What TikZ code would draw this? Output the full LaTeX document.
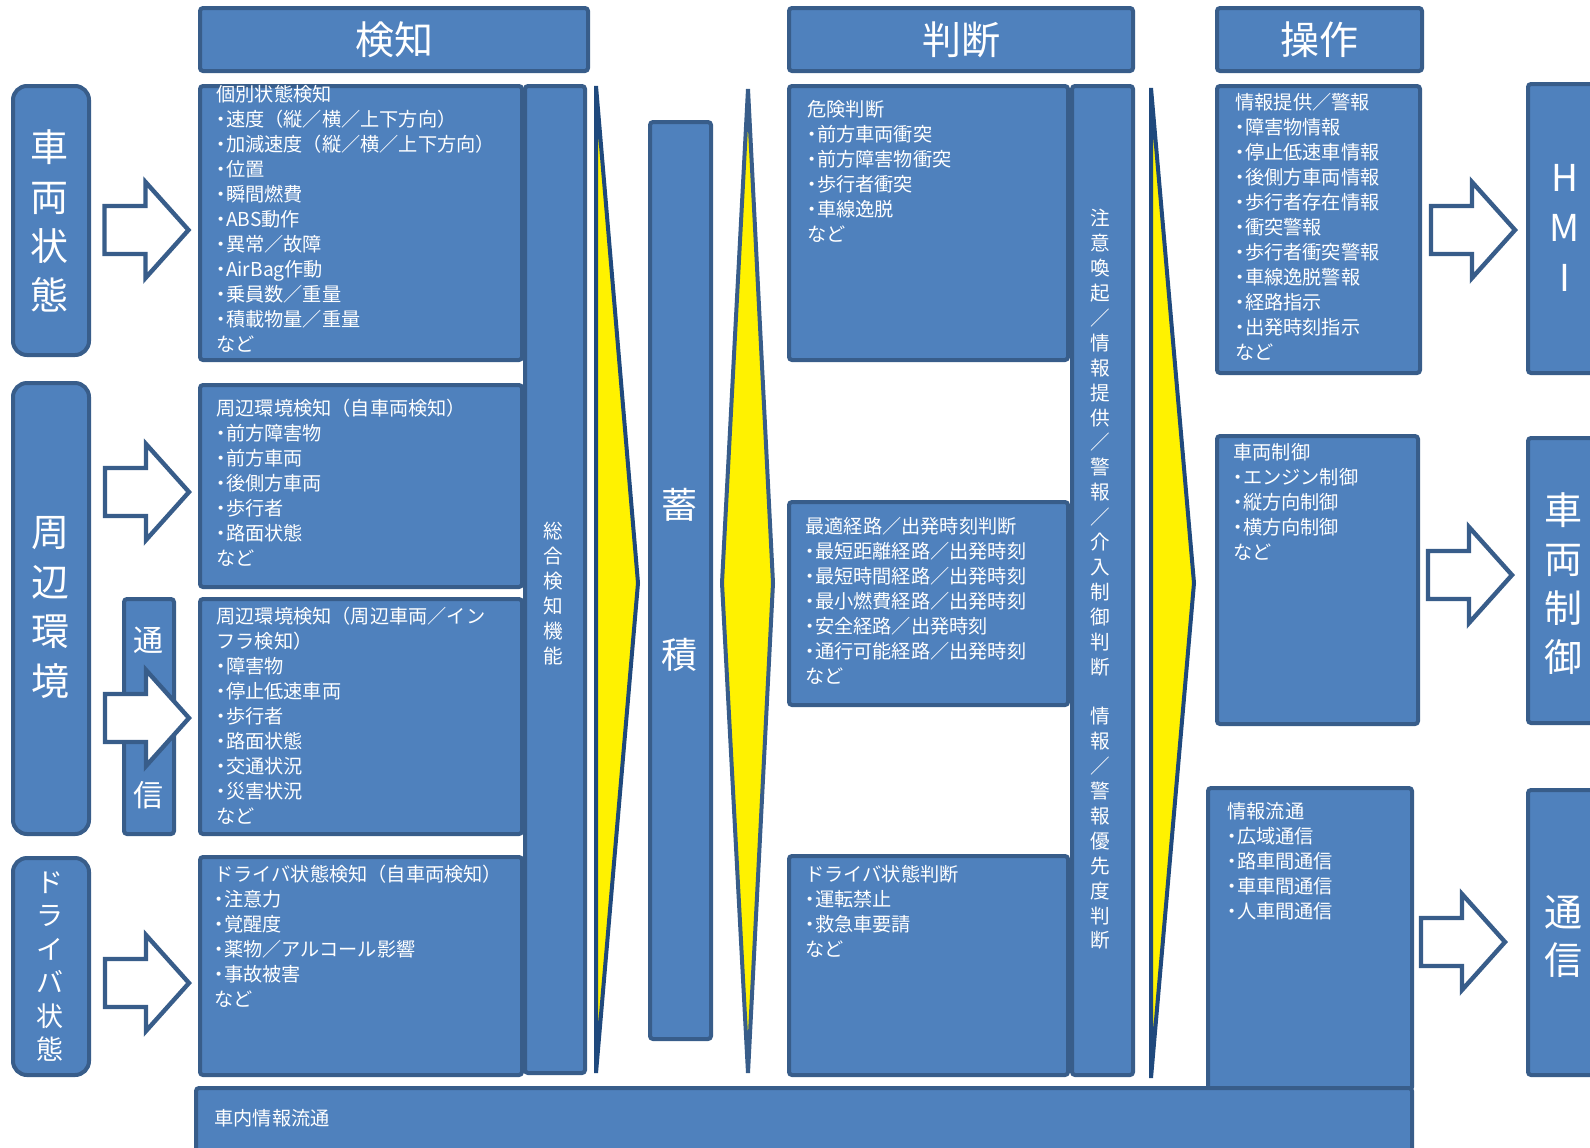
\documentclass[tikz,border=0pt]{standalone}
\usepackage{fontspec}
\setmainfont{Noto Sans CJK JP}
\newfontfamily\jpp{Noto Sans CJK JP}[RawFeature=+palt]
\newcommand\ndot{{\jpp ・}}
\definecolor{boxfill}{HTML}{4F81BD}
\definecolor{boxline}{HTML}{385D8A}
\definecolor{chevline}{HTML}{1F497D}
\definecolor{chevline2}{HTML}{385D8A}
\tikzset{
 box/.style={draw=boxline, fill=boxfill, line width=2pt, rounded corners=1.5pt, inner sep=0pt, outer sep=0pt},
 lbox/.style={rounded corners=7pt},
 txt/.style={text=white, inner sep=0pt, align=left, anchor=north west, font=\fontsize{9.6pt}{12.5pt}\selectfont},
 vtxt/.style={text=white, inner sep=0pt, align=center},
 smallv/.style={vtxt, font=\fontsize{9.8pt}{12.45pt}\selectfont},
 headtxt/.style={text=white, inner sep=0pt, font=\fontsize{19.5pt}{20pt}\selectfont},
 chev/.style={draw=chevline, fill=yellow, line width=2pt, line join=miter},
 barrowstyle/.style={draw=boxline, fill=white, line width=2.2pt, line join=miter},
 barrow/.pic={\path[barrowstyle] (-42,-24) -- (-1,-24) -- (-1,-48) -- (42,0) -- (-1,48) -- (-1,24) -- (-42,24) -- cycle;}
}
\newcommand\rbox[6][]{%
 \pgfmathsetmacro\rbW{(#5-#3)*0.5}%
 \pgfmathsetmacro\rbH{(#6-#4)*0.5}%
 \node[box,#1,anchor=north west,minimum width=\rbW pt,minimum height=\rbH pt] (#2) at (#3,#4) {};}
\begin{document}
\begin{tikzpicture}[x=0.5pt,y=-0.5pt]
\useasboundingbox (0,0) rectangle (1590,1147);
\clip (0,0) rectangle (1590,1147);
% headers
\rbox{hK}{200}{8}{588}{71}
\rbox{hH}{789}{8}{1133}{71}
\rbox{hS}{1217}{8}{1422}{71}
\node[headtxt] (hKt) at (hK) {検知};
\node[headtxt] (hHt) at (hH) {判断};
\node[headtxt] (hSt) at (hS) {操作};
% left sources
\rbox[lbox]{sV}{13}{86}{89}{355}
\rbox[lbox]{sE}{13}{383}{89}{834}
\rbox[lbox]{sD}{13}{858}{89}{1075}
\rbox{cm}{124}{599}{174}{834}
\node[vtxt, font=\fontsize{19pt}{24.6pt}\selectfont] (sVt) at (50,221) {車\\両\\状\\態};
\node[vtxt, font=\fontsize{19pt}{24.8pt}\selectfont] (sEt) at (51,607.5) {周\\辺\\環\\境};
\node[vtxt, font=\fontsize{13.5pt}{16.7pt}\selectfont] (sDt) at (50,966.5) {ド\\ラ\\イ\\バ\\状\\態};
\node[vtxt, font=\fontsize{15pt}{15pt}\selectfont] (cmt1) at (148,640) {通};
\node[vtxt, font=\fontsize{15pt}{15pt}\selectfont] (cmt2) at (148,795) {信};
% detection boxes
\rbox{dA}{200}{86}{522}{360}
\rbox{dB}{200}{385}{522}{587}
\rbox{dC}{200}{599}{522}{834}
\rbox{dD}{200}{857}{522}{1075}
\rbox{dT}{525}{86}{585}{1073}
\node[txt] (dAt) at (216,85) {個別状態検知\\\ndot 速度（縦／横／上下方向）\\\ndot 加減速度（縦／横／上下方向）\\\ndot 位置\\\ndot 瞬間燃費\\\ndot ABS動作\\\ndot 異常／故障\\\ndot AirBag作動\\\ndot 乗員数／重量\\\ndot 積載物量／重量\\など};
\node[txt] (dBt) at (216,399) {周辺環境検知（自車両検知）\\\ndot 前方障害物\\\ndot 前方車両\\\ndot 後側方車両\\\ndot 歩行者\\\ndot 路面状態\\など};
\node[txt] (dCt) at (216,607) {周辺環境検知（周辺車両／イン\\フラ検知）\\\ndot 障害物\\\ndot 停止低速車両\\\ndot 歩行者\\\ndot 路面状態\\\ndot 交通状況\\\ndot 災害状況\\など};
\node[txt] (dDt) at (214,865) {ドライバ状態検知（自車両検知）\\\ndot 注意力\\\ndot 覚醒度\\\ndot 薬物／アルコール影響\\\ndot 事故被害\\など};
\node[smallv] (dTt) at (553,593.5) {総\\合\\検\\知\\機\\能};
% accumulation
\rbox{acc}{650}{122}{711}{1039}
\node[vtxt, font=\fontsize{18pt}{75pt}\selectfont] (acct) at (679,580) {蓄\\積};
% judgement boxes
\rbox{jA}{789}{86}{1068}{360}
\rbox{jB}{789}{502}{1068}{705}
\rbox{jC}{789}{856}{1068}{1075}
\rbox{jT}{1072}{86}{1133}{1075}
\node[txt] (jAt) at (807,100) {危険判断\\\ndot 前方車両衝突\\\ndot 前方障害物衝突\\\ndot 歩行者衝突\\\ndot 車線逸脱\\など};
\node[txt] (jBt) at (805,517) {最適経路／出発時刻判断\\\ndot 最短距離経路／出発時刻\\\ndot 最短時間経路／出発時刻\\\ndot 最小燃費経路／出発時刻\\\ndot 安全経路／出発時刻\\\ndot 通行可能経路／出発時刻\\など};
\node[txt] (jCt) at (805,865) {ドライバ状態判断\\\ndot 運転禁止\\\ndot 救急車要請\\など};
\node[smallv] (jTt) at (1100,579.5) {注\\意\\喚\\起\\／\\情\\報\\提\\供\\／\\警\\報\\／\\介\\入\\制\\御\\判\\断\\[12.45pt]情\\報\\／\\警\\報\\優\\先\\度\\判\\断};
% operation boxes
\rbox{oA}{1217}{86}{1420}{373}
\rbox{oB}{1217}{436}{1418}{724}
\rbox{oC}{1208}{788}{1412}{1090}
\node[txt] (oAt) at (1235,93) {情報提供／警報\\\ndot 障害物情報\\\ndot 停止低速車情報\\\ndot 後側方車両情報\\\ndot 歩行者存在情報\\\ndot 衝突警報\\\ndot 歩行者衝突警報\\\ndot 車線逸脱警報\\\ndot 経路指示\\\ndot 出発時刻指示\\など};
\node[txt] (oBt) at (1233,443) {車両制御\\\ndot エンジン制御\\\ndot 縦方向制御\\\ndot 横方向制御\\など};
\node[txt] (oCt) at (1227,802) {情報流通\\\ndot 広域通信\\\ndot 路車間通信\\\ndot 車車間通信\\\ndot 人車間通信};
% outputs
\rbox{hmi}{1528}{84}{1610}{373}
\rbox{vc}{1528}{438}{1610}{723}
\rbox{tc}{1528}{790}{1610}{1075}
\node[vtxt, font=\fontsize{18.5pt}{25pt}\selectfont] (hmit) at (1565,228) {H\\M\\I};
\node[vtxt, font=\fontsize{19pt}{24.5pt}\selectfont] (vct) at (1563,583.5) {車\\両\\制\\御};
\node[vtxt, font=\fontsize{19pt}{24pt}\selectfont] (tct) at (1563,936) {通\\信};
% bottom bar
\rbox{bar}{196}{1088}{1412}{1170}
\node[txt, anchor=west] (bart) at (214,1118) {車内情報流通};
% chevrons
\path[chev] (596,86) -- (638,583) -- (596,1073) -- cycle;
\path[chev, draw=chevline2] (748,89) -- (773,583) -- (748,1073) -- (722,583) -- cycle;
\path[chev] (1151,88) -- (1194,583) -- (1151,1078) -- cycle;
% block arrows
\pic (a1) at (146.5,230) {barrow};
\pic (a2) at (147,492) {barrow};
\pic (a3) at (147,718) {barrow};
\pic (a4) at (147,983) {barrow};
\pic (r1) at (1473,230) {barrow};
\pic (r2) at (1470,575) {barrow};
\pic (r3) at (1463,942) {barrow};
\end{tikzpicture}
\end{document}
